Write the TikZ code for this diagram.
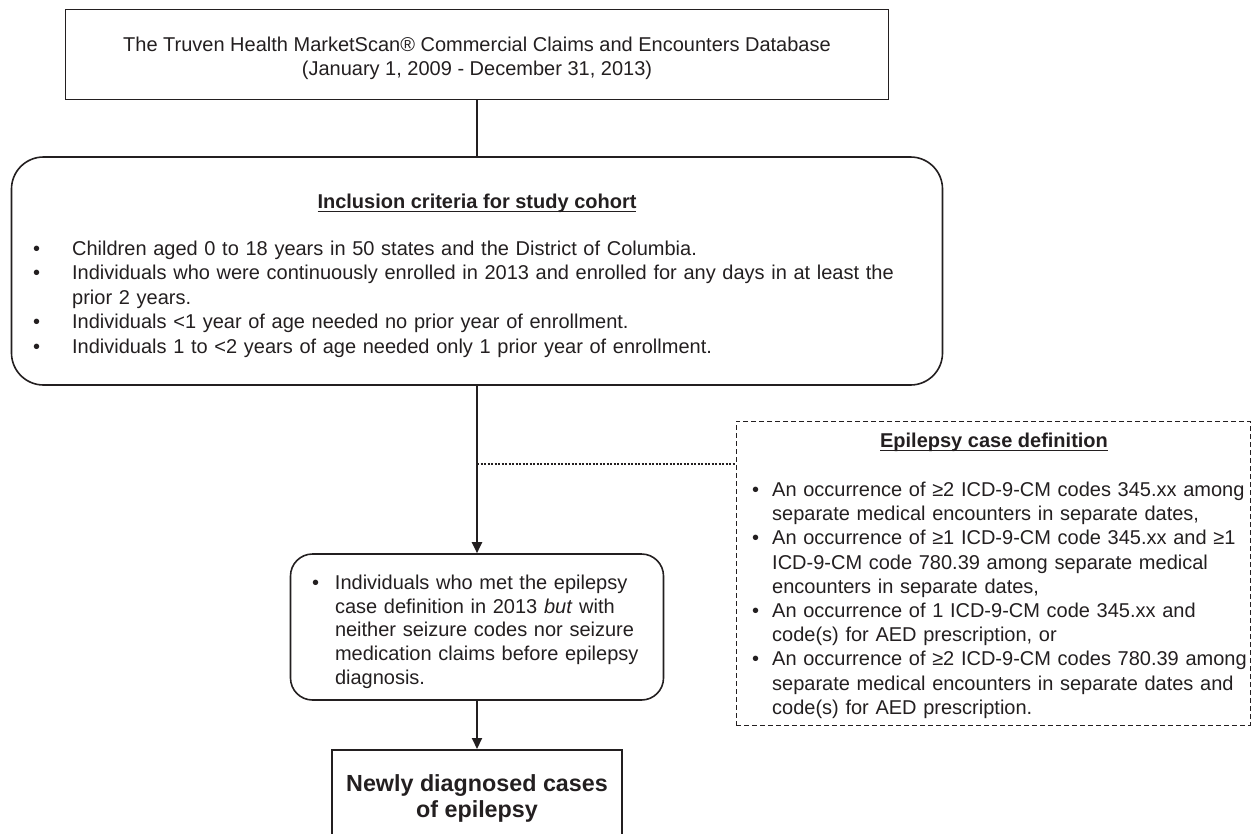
\documentclass[tikz,border=0pt]{standalone}
\usepackage{fontspec}
\setmainfont{Liberation Sans}
\usetikzlibrary{arrows.meta}
\usetikzlibrary{positioning}

\definecolor{ink}{HTML}{231F20}
% bullet with hanging indent, underlined bold title
\newcommand{\bitem}[2]{\par\noindent\hangindent=#1\hangafter=1\makebox[#1][l]{\textbullet}#2\par}
\newcommand{\boxtitle}[1]{\setbox0=\hbox{\bfseries #1}\leavevmode\rlap{\rule[-4pt]{\wd0}{1.5pt}}\box0}

\begin{document}
\begin{tikzpicture}[x=1pt,y=-1pt,
    every node/.style={text=ink,inner sep=0pt},
    box/.style={draw=ink,line width=1.6pt},
    dashbox/.style={draw=ink,line width=1pt,dash pattern=on 5pt off 3pt},
    link/.style={draw=ink,line width=2pt},
    arr/.style={link,-{Triangle[length=11pt,width=10pt]}},
    txt/.style={font=\fontsize{20}{24}\selectfont}]
    \useasboundingbox (0,0) rectangle (1252,833);
    \clip (0,0) rectangle (1252,833);

    % Place nodes
    \node[box,minimum width=823pt,minimum height=90pt] (src) at (477,54.5) {};
    \node[txt,align=center] (srctext) at (477,58.5)
        {The Truven Health MarketScan® Commercial Claims and Encounters Database\\(January 1, 2009 - December 31, 2013)};

    \node[box,rounded corners=32pt,minimum width=931pt,minimum height=228pt] (incl) at (477,271) {};
    \node[txt,anchor=base] (incltitle) at (477,208) {\boxtitle{Inclusion criteria for study cohort}};
    \node[font=\fontsize{20}{24.5}\selectfont,anchor=north west,text width=880pt,align=left] (incllist) at (33,230.5)
        {\bitem{39pt}{Children aged 0 to 18 years in 50 states and the District of Columbia.}
         \bitem{39pt}{Individuals who were continuously enrolled in 2013 and enrolled for any days in at least the\newline prior 2 years.}
         \bitem{39pt}{Individuals <1 year of age needed no prior year of enrollment.}
         \bitem{39pt}{Individuals 1 to <2 years of age needed only 1 prior year of enrollment.}};

    \node[dashbox,minimum width=514pt,minimum height=304pt] (defn) at (993,573) {};
    \node[txt,anchor=base] (defntitle) at (994,447) {\boxtitle{Epilepsy case definition}};
    \node[font=\fontsize{20}{24.2}\selectfont,anchor=north west,text width=495pt,align=left] (defnlist) at (752,472)
        {\bitem{20pt}{An occurrence of ≥2 ICD-9-CM codes 345.xx among\newline separate medical encounters in separate dates,}
         \bitem{20pt}{An occurrence of ≥1 ICD-9-CM code 345.xx and ≥1\newline ICD-9-CM code 780.39 among separate medical\newline encounters in separate dates,}
         \bitem{20pt}{An occurrence of 1 ICD-9-CM code 345.xx and\newline code(s) for AED prescription, or}
         \bitem{20pt}{An occurrence of ≥2 ICD-9-CM codes 780.39 among\newline separate medical encounters in separate dates and\newline code(s) for AED prescription.}};

    \node[box,font=\fontsize{20}{23.75}\selectfont,rounded corners=22pt,minimum width=373pt,minimum height=146pt,text width=330pt,align=left] (mid) at (477,627)
        {\bitem{23pt}{Individuals who met the epilepsy\newline case definition in 2013 \textit{but} with\newline neither seizure codes nor seizure\newline medication claims before epilepsy\newline diagnosis.}};

    \node[box,font=\fontsize{23.3}{26}\selectfont\bfseries,align=center,minimum width=290pt,minimum height=98pt,anchor=north] (res) at (477,749)
        {Newly diagnosed cases\\of epilepsy};

    % Connectors
    \coordinate (jn) at (477,464);
    \draw[link] (src.south) -- (incl.north);
    \draw[arr] (incl.south) -- (mid.north);
    \draw[link,dash pattern=on 2pt off 1.5pt] (jn) -- (jn -| defn.west);
    \draw[arr] (mid.south) -- (res.north);
\end{tikzpicture}
\end{document}
